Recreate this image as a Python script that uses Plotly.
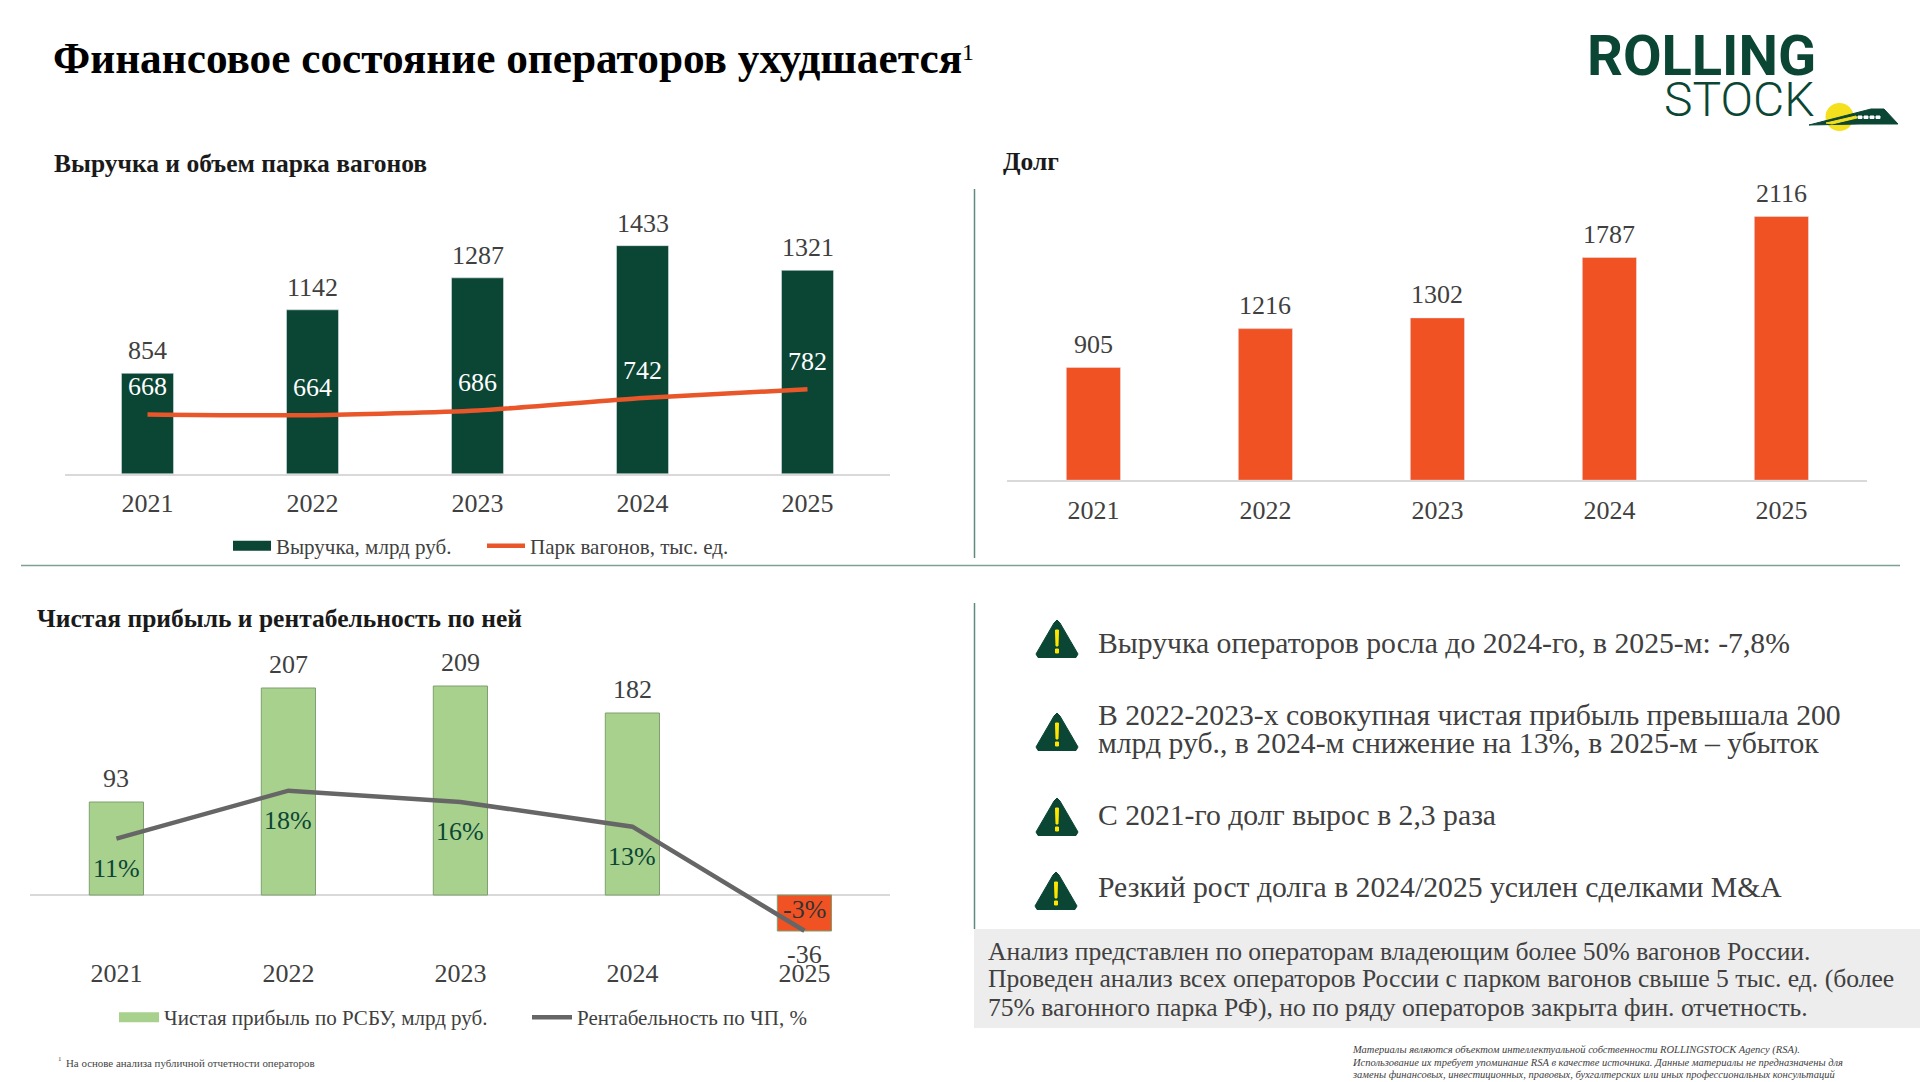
import plotly.graph_objects as go

years = ["2021", "2022", "2023", "2024", "2025"]
revenue = [854, 1142, 1287, 1433, 1321]
fleet = [668, 664, 686, 742, 782]
debt = [905, 1216, 1302, 1787, 2116]
profit = [93, 207, 209, 182, -36]
margin = [10.8, 18.0, 16.3, 12.6, -3.0]
margin_labels = ["11%", "18%", "16%", "13%", "-3%"]

GREEN = "#0B4635"
ORANGE = "#F15223"
LIGHT = "#A9D18E"
GREY = "#666666"
TEXT = "#404040"
SERIF = "Liberation Serif"
W, H = 1920, 1082


def px(x):
    return x / W


def py(y):
    return 1 - y / H


fig = go.Figure()

# ---- revenue + fleet, both on the same axis
fig.add_trace(go.Bar(x=years, y=revenue, marker_color=GREEN, showlegend=False, xaxis="x", yaxis="y"))
fig.add_trace(go.Scatter(x=[None], y=[None], mode="lines", name="Выручка, млрд руб.",
                         line=dict(color=GREEN, width=11.5), legend="legend", xaxis="x", yaxis="y"))
fig.add_trace(go.Scatter(x=years, y=fleet, mode="lines", name="Парк вагонов, тыс. ед.",
                         line=dict(color="#E8562A", width=4.5, shape="spline", smoothing=0.6),
                         legend="legend", xaxis="x", yaxis="y"))

# ---- debt
fig.add_trace(go.Bar(x=years, y=debt, marker_color=ORANGE, showlegend=False, xaxis="x2", yaxis="y2"))

# ---- profit + margin
bar_colors = [LIGHT if v >= 0 else ORANGE for v in profit]
fig.add_trace(go.Bar(x=years, y=profit, marker=dict(color=bar_colors, line=dict(color="#7F9F70", width=1)),
                     showlegend=False, xaxis="x3", yaxis="y3"))
fig.add_trace(go.Scatter(x=[None], y=[None], mode="lines", name="Чистая прибыль по РСБУ, млрд руб.",
                         line=dict(color=LIGHT, width=11.5), legend="legend3", xaxis="x3", yaxis="y3"))
fig.add_trace(go.Scatter(x=years, y=margin, mode="lines", name="Рентабельность по ЧП, %",
                         line=dict(color=GREY, width=4.5), legend="legend3", xaxis="x3", yaxis="y4"))

tick_style = dict(type="category", range=[-0.5, 4.5], tickfont=dict(family=SERIF, size=26, color=TEXT),
                  ticks="", showgrid=False)
fig.update_layout(
    width=W, height=H, margin=dict(l=0, r=0, t=0, b=0),
    paper_bgcolor="white", plot_bgcolor="white", bargap=0.685,
    font=dict(family=SERIF, color=TEXT),
    xaxis=dict(domain=[px(65), px(890)], anchor="y", showline=True, linecolor="#D9D9D9", linewidth=1.5,
               ticklabelstandoff=6, **tick_style),
    yaxis=dict(domain=[py(473.5), py(200)], anchor="x", range=[400, 1640], visible=False),
    xaxis2=dict(domain=[px(1007.4), px(1867.4)], anchor="y2", showline=True, linecolor="#D9D9D9", linewidth=1.5,
                ticklabelstandoff=6, **tick_style),
    yaxis2=dict(domain=[py(480.2), py(181)], anchor="x2", range=[0, 2400], visible=False),
    xaxis3=dict(domain=[px(30.4), px(890.4)], anchor="y3", showline=False, **tick_style),
    yaxis3=dict(domain=[py(955), py(660)], anchor="x3", range=[-60, 235], showgrid=False, showticklabels=False,
                ticks="", zeroline=True, zerolinecolor="#D9D9D9", zerolinewidth=1.5),
    yaxis4=dict(domain=[py(955), py(660)], anchor="x3", overlaying="y3", range=[-6.645, 37.6], visible=False),
    legend=dict(orientation="h", x=px(228), y=py(546), xanchor="left", yanchor="middle",
                itemwidth=38, entrywidth=201, entrywidthmode="pixels", bgcolor="rgba(0,0,0,0)",
                font=dict(family=SERIF, size=21, color=TEXT)),
    legend3=dict(orientation="h", x=px(114), y=py(1017.5), xanchor="left", yanchor="middle",
                 itemwidth=40, entrywidth=358, entrywidthmode="pixels", bgcolor="rgba(0,0,0,0)",
                 font=dict(family=SERIF, size=21, color=TEXT)),
)

notes = []


def note(x, y, text, size, color=TEXT, anchor="left", bold=False, italic=False, family=SERIF, weight=None):
    # free text placed in page pixels
    notes.append(dict(xref="paper", yref="paper", x=px(x), y=py(y), text=text, showarrow=False,
                      xanchor=anchor, yanchor="middle", align="left",
                      font=dict(family=family, size=size, color=color,
                                weight=weight if weight else (700 if bold else 400),
                                style="italic" if italic else "normal")))


def value_labels(xref, yref, values, labels, up, down, color=TEXT, neg_color=TEXT):
    # category positions have to be serial numbers, "2021" would read as a coordinate
    for i, (v, lab) in enumerate(zip(values, labels)):
        notes.append(dict(xref=xref, yref=yref, x=i, y=v, text=str(lab), showarrow=False, yanchor="middle",
                          yshift=up if v >= 0 else down,
                          font=dict(family=SERIF, size=26, color=color if v >= 0 else neg_color)))


value_labels("x", "y", revenue, revenue, 22.5, 0)
value_labels("x", "y", fleet, fleet, 27.5, 0, color="white")
value_labels("x2", "y2", debt, debt, 23, 0)
value_labels("x3", "y3", profit, profit, 23.5, -23)
value_labels("x3", "y4", margin, margin_labels, -29.5, 21.5, color=GREEN, neg_color="#333333")

# headings
note(50.5, 58, "Финансовое состояние операторов ухудшается", 43.3, color="#000000", bold=True)
note(960, 52, "1", 24, color="#000000")
note(51.5, 163.5, "Выручка и объем парка вагонов", 25.5, color="#1a1a1a", bold=True)
note(1001, 161, "Долг", 25.5, color="#1a1a1a", bold=True)
note(34.5, 618, "Чистая прибыль и рентабельность по ней", 25.5, color="#1a1a1a", bold=True)

# takeaways
note(1096, 642.5, "Выручка операторов росла до 2024-го, в 2025-м: -7,8%", 29.7)
note(1096, 715, "В 2022-2023-х совокупная чистая прибыль превышала 200", 29.7)
note(1096, 743, "млрд руб., в 2024-м снижение на 13%, в 2025-м – убыток", 29.7)
note(1096, 815, "С 2021-го долг вырос в 2,3 раза", 29.7)
note(1096, 886.5, "Резкий рост долга в 2024/2025 усилен сделками M&A", 29.7)

note(986, 951, "Анализ представлен по операторам владеющим более 50% вагонов России.", 25.6)
note(986, 978.5, "Проведен анализ всех операторов России с парком вагонов свыше 5 тыс. ед. (более", 25.6)
note(986, 1007, "75% вагонного парка РФ), но по ряду операторов закрыта фин. отчетность.", 25.6)

# small print
note(56, 1059, "1", 7, color="#444444")
note(63.5, 1062.5, "На основе анализа публичной отчетности операторов", 10.9, color="#444444")
note(1350, 1049.5, "Материалы являются объектом интеллектуальной собственности ROLLINGSTOCK Agency (RSA).", 10.5, italic=True)
note(1350, 1062, "Использование их требует упоминание RSA в качестве источника. Данные материалы не предназначены для", 10.5, italic=True)
note(1350, 1074, "замены финансовых, инвестиционных, правовых, бухгалтерских или иных профессиональных консультаций", 10.5, italic=True)

# logo
note(1818, 56, "ROLLING", 56, color=GREEN, anchor="right", family="Roboto", bold=True)
note(1816, 99.5, "STOCK", 48, color=GREEN, anchor="right", family="Roboto", weight=300)

shapes = []


def line_px(x0, y0, x1, y1, color, width):
    shapes.append(dict(type="line", xref="paper", yref="paper", x0=px(x0), y0=py(y0), x1=px(x1), y1=py(y1),
                       line=dict(color=color, width=width)))


def poly(points, color):
    path = "M" + " L".join(f"{px(a):.5f},{py(b):.5f}" for a, b in points) + " Z"
    shapes.append(dict(type="path", xref="paper", yref="paper", path=path, fillcolor=color,
                       line=dict(color=color, width=1), layer="above"))


shapes.append(dict(type="rect", xref="paper", yref="paper", x0=px(974), x1=px(1920), y0=py(929), y1=py(1028),
                   fillcolor="#EDEDED", line_width=0, layer="below"))
line_px(21, 565.5, 1900, 565.5, "#7F9F98", 1.5)
line_px(974.5, 189, 974.5, 558, "#5F8A80", 1.5)
line_px(974.5, 603, 974.5, 929, "#5F8A80", 1.5)

# warning signs
for x0, y0 in [(1036, 620), (1036, 713), (1036, 798), (1035, 872)]:
    poly([(x0 + 21, y0), (x0 + 24, y0 + 3), (x0 + 42, y0 + 34), (x0 + 40, y0 + 37.5),
          (x0 + 2, y0 + 37.5), (x0, y0 + 34), (x0 + 18, y0 + 3)], GREEN)
    poly([(x0 + 19.5, y0 + 10), (x0 + 22.5, y0 + 10), (x0 + 22, y0 + 26), (x0 + 20, y0 + 26)], "#FFE600")
    poly([(x0 + 19.5, y0 + 29), (x0 + 22.5, y0 + 29), (x0 + 22.5, y0 + 33), (x0 + 19.5, y0 + 33)], "#FFE600")

# logo train with the sun behind it
shapes.append(dict(type="circle", xref="paper", yref="paper", x0=px(1825.5), x1=px(1853.5), y0=py(131), y1=py(103),
                   fillcolor="#F5E01E", line_width=0))
poly([(1809, 125), (1871, 109), (1884, 109), (1898, 124), (1860, 124)], GREEN)
poly([(1826, 123), (1856, 116), (1857, 118), (1832, 124)], "#F5E01E")
for i in range(4):
    poly([(1858 + i * 6, 116), (1862 + i * 6, 116), (1862 + i * 6, 118.5), (1858 + i * 6, 118.5)], "white")

fig.update_layout(annotations=notes, shapes=shapes)

fig.write_html("out.html", config={"displayModeBar": False},
               post_script="document.body.style.margin='0';document.body.style.overflow='hidden';")
